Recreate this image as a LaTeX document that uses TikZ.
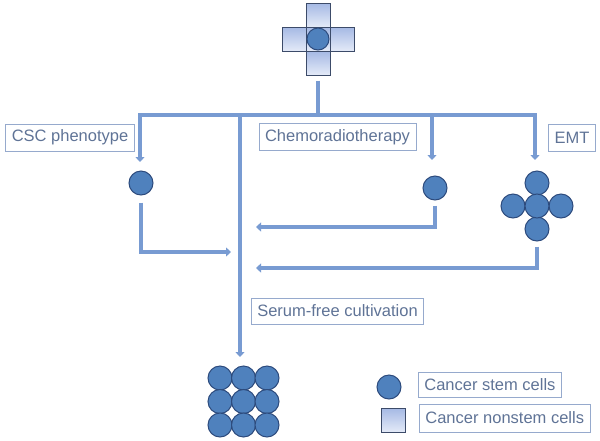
\documentclass[tikz,border=0pt]{standalone}
\usepackage{fontspec}
\setmainfont{Liberation Sans}
\usetikzlibrary{arrows.meta}
\definecolor{cellblue}{RGB}{79,129,189}
\definecolor{celledge}{RGB}{45,75,125}
\definecolor{flowblue}{RGB}{120,155,210}
\definecolor{labeltext}{RGB}{95,115,150}
\definecolor{labeledge}{RGB}{150,170,205}
\definecolor{sqtop}{RGB}{165,185,228}
\definecolor{sqbottom}{RGB}{228,234,248}
\definecolor{sqedge}{RGB}{60,75,105}

\begin{document}
\begin{tikzpicture}[x=1pt,y=-1pt,
	stem_cell/.style={circle,fill=cellblue,draw=celledge,line width=1pt,minimum size=24pt,inner sep=0pt},
	nonstem_cell/.style={rectangle,top color=sqtop,bottom color=sqbottom,draw=sqedge,line width=1pt,minimum size=24pt,inner sep=0pt},
	label_box/.style={rectangle,draw=labeledge,line width=0.8pt,text=labeltext,font=\fontsize{16.5}{19}\selectfont,minimum height=27pt,inner xsep=6pt},
	flow/.style={draw=flowblue,line width=4pt,-{Triangle[length=5pt,width=9pt]}},
	bus/.style={draw=flowblue,line width=4pt}]

		\useasboundingbox (0,0) rectangle (600,440);

		% starting tumour
		\node[nonstem_cell] (sq_top) at (318,15) {};
		\node[nonstem_cell] (sq_left) at (294,39) {};
		\node[nonstem_cell] (sq_right) at (342,39) {};
		\node[nonstem_cell] (sq_bottom) at (318,63) {};
		\node[nonstem_cell] (sq_mid) at (318,39) {};
		\node[stem_cell,minimum size=22pt] (origin_cell) at (318,39) {};

		\coordinate (bus_mid) at (318,115);
		\coordinate (csc_tip) at (140,162);
		\coordinate (chemo_tip) at (432,160);
		\coordinate (emt_tip) at (535,160);
		\coordinate (grid_tip) at (240,357);

		\draw[bus,shorten <=5pt] (sq_bottom) -- (bus_mid);
		\draw[flow] (bus_mid) -| (csc_tip);
		\draw[flow] (bus_mid) -| (grid_tip);
		\draw[flow] (bus_mid) -| (chemo_tip);
		\draw[flow] (bus_mid) -| (emt_tip);

		% labels
		\node[label_box] (csc_label) at (70,137.5) {CSC phenotype};
		\node[label_box] (chemo_label) at (337.5,137) {Chemoradiotherapy};
		\node[label_box] (emt_label) at (572,137.5) {EMT};
		\node[label_box,minimum height=26pt] (serum_label) at (337.5,311) {Serum-free cultivation};

		% selected cells
		\node[stem_cell] (csc_cell) at (141,183) {};
		\node[stem_cell] (chemo_cell) at (435,188) {};
		\node[stem_cell] (emt_top) at (537,183) {};
		\node[stem_cell] (emt_left) at (513,206) {};
		\node[stem_cell] (emt_right) at (561,206) {};
		\node[stem_cell] (emt_bottom) at (537,229) {};
		\node[stem_cell] (emt_mid) at (537,206) {};

		\coordinate (csc_join) at (231,252);
		\coordinate (chemo_join) at (256,227);
		\coordinate (emt_join) at (256,268);

		\draw[flow,shorten <=7pt] (csc_cell) |- (csc_join);
		\draw[flow,shorten <=5pt] (chemo_cell) |- (chemo_join);
		\draw[flow,shorten <=5pt] (emt_bottom) |- (emt_join);

		% sphere of stem cells
		\node[stem_cell] (g11) at (220,378) {};
		\node[stem_cell] (g12) at (243.5,378) {};
		\node[stem_cell] (g13) at (267,378) {};
		\node[stem_cell] (g21) at (220,401.5) {};
		\node[stem_cell] (g22) at (243.5,401.5) {};
		\node[stem_cell] (g23) at (267,401.5) {};
		\node[stem_cell] (g31) at (220,425) {};
		\node[stem_cell] (g32) at (243.5,425) {};
		\node[stem_cell] (g33) at (267,425) {};

		% legend
		\node[stem_cell] (legend_stem) at (389,387) {};
		\node[nonstem_cell] (legend_nonstem) at (393,420) {};
		\node[label_box,minimum height=25pt,anchor=west] (legend_stem_label) at (418,384.5) {Cancer stem cells};
		\node[label_box,minimum height=28pt,anchor=west] (legend_nonstem_label) at (419,418) {Cancer nonstem cells};
		\end{tikzpicture}
\end{document}
